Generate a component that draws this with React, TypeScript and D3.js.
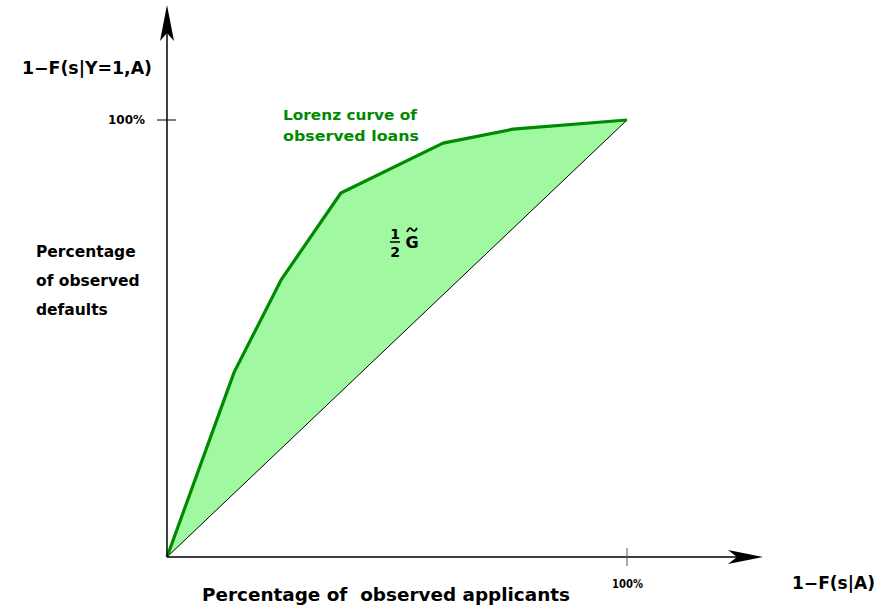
import React from "react";
import * as d3 from "d3";

const xShares = [0, 0.146, 0.248, 0.378, 0.6, 0.752, 1];
const yShares = [0, 0.423, 0.634, 0.833, 0.947, 0.979, 1];
const tickLabels = ["100%"];
const yLabelLines = ["Percentage", "of observed", "defaults"];
const curveLabelLines = ["Lorenz curve of", "observed loans"];

const W = 879;
const H = 609;
const FONT = "'DejaVu Sans', sans-serif";

export default function App() {
  const x = d3.scaleLinear().domain([0, 1]).range([167, 627]);
  const y = d3.scaleLinear().domain([0, 1]).range([557, 120]);
  const pts: [number, number][] = xShares.map((v, i) => [v, yShares[i]]);
  const line = d3.line<[number, number]>().x((d) => x(d[0])).y((d) => y(d[1]));
  const areaPts: [number, number][] = [...pts, [0, 0]];
  const areaPath = line(areaPts) + "Z";
  const curvePath = line(pts) || "";
  const x0 = x(0), y0 = y(0);
  const xTip = 763, yTip = 5;
  const gx = 412;

  return (
    <svg width={W} height={H} style={{ position: "absolute", left: 0, top: 0, background: "#fff" }} fontFamily={FONT}>
      <path d={areaPath} fill="#a0f8a0" stroke="none" />
      <line x1={x(0)} y1={y(0)} x2={x(1)} y2={y(1)} stroke="#000" strokeWidth={1} />
      <path d={curvePath} fill="none" stroke="#008a00" strokeWidth={3.2} strokeLinejoin="round" />
      {/* axes */}
      <line x1={x0} y1={y0} x2={xTip - 10} y2={y0} stroke="#000" strokeWidth={1.5} />
      <line x1={x0} y1={y0} x2={x0} y2={yTip + 10} stroke="#000" strokeWidth={1.5} />
      <path d={`M${xTip},${y0} L${xTip - 35},${y0 - 7} L${xTip - 26},${y0} L${xTip - 35},${y0 + 7} Z`} fill="#000" />
      <path d={`M${x0},${yTip} L${x0 - 7},${yTip + 36} L${x0},${yTip + 28} L${x0 + 7},${yTip + 36} Z`} fill="#000" />
      {/* ticks */}
      <line x1={x(1)} y1={y0 - 9} x2={x(1)} y2={y0 + 9} stroke="#555" strokeWidth={1} />
      <line x1={x0 - 10} y1={y(1)} x2={x0 + 9} y2={y(1)} stroke="#000" strokeWidth={1} />
      <text x={612} y={588} fontSize={12} fontWeight="bold" fill="#000" textLength={31} lengthAdjust="spacingAndGlyphs">{tickLabels[0]}</text>
      <text x={108} y={124} fontSize={12} fontWeight="bold" fill="#000" textLength={37} lengthAdjust="spacingAndGlyphs">{tickLabels[0]}</text>
      {/* axis labels */}
      <text x={22} y={74} fontSize={17} fontWeight="bold" fill="#000" textLength={130} lengthAdjust="spacingAndGlyphs">1−F(s|Y=1,A)</text>
      <text x={792} y={589} fontSize={17} fontWeight="bold" fill="#000" textLength={83} lengthAdjust="spacingAndGlyphs">1−F(s|A)</text>
      <text x={202} y={601} fontSize={17} fontWeight="bold" fill="#000" style={{ whiteSpace: "pre" }} textLength={368} lengthAdjust="spacingAndGlyphs">Percentage of  observed applicants</text>
      {yLabelLines.map((t, i) => (
        <text key={i} x={36} y={257 + i * 29} fontSize={15.5} fontWeight="bold" fill="#000">{t}</text>
      ))}
      {curveLabelLines.map((t, i) => (
        <text key={i} x={283} y={120 + i * 21} fontSize={14} fontWeight="bold" fill="#008a00" textLength={i === 0 ? 134 : 136} lengthAdjust="spacingAndGlyphs">{t}</text>
      ))}
      {/* 1/2 G tilde */}
      <text x={395} y={239} textAnchor="middle" fontSize={14} fontWeight="bold" fill="#000">1</text>
      <line x1={390} y1={242} x2={400} y2={242} stroke="#000" strokeWidth={1.5} />
      <text x={395} y={257} textAnchor="middle" fontSize={14} fontWeight="bold" fill="#000">2</text>
      <text x={gx} y={248} textAnchor="middle" fontSize={16} fontWeight="bold" fill="#000">G</text>
      <path d={`M${gx - 5},${232} Q${gx - 2.5},${226} ${gx},${229.5} T${gx + 5},${228}`} fill="none" stroke="#000" strokeWidth={1.8} />
    </svg>
  );
}
